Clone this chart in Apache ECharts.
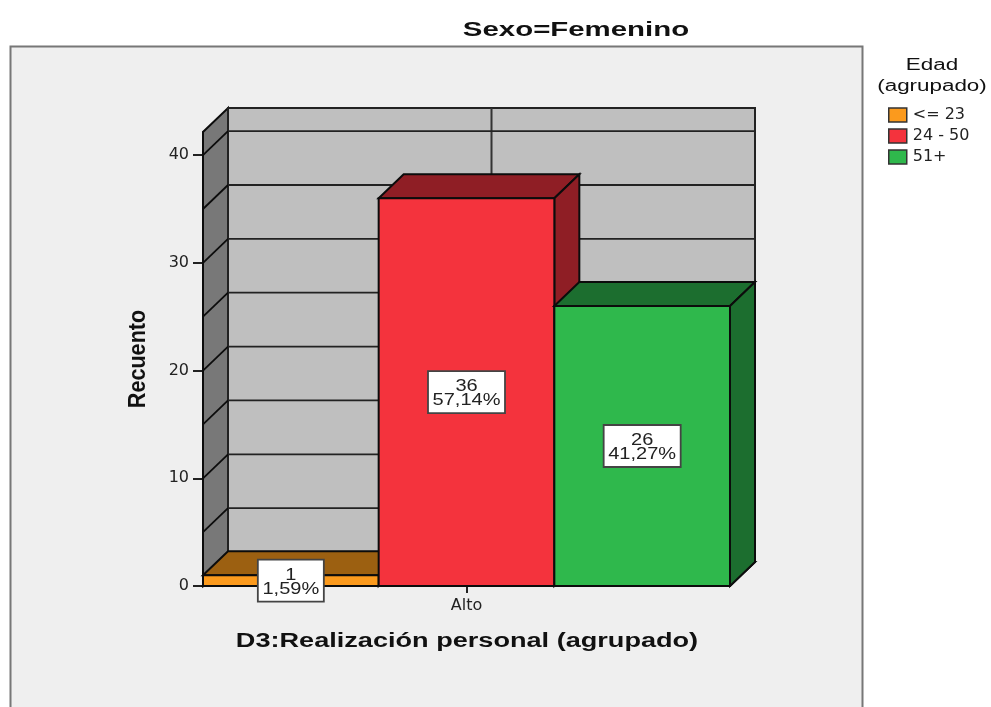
<!DOCTYPE html>
<html>
<head>
<meta charset="utf-8">
<style>html,body{margin:0;padding:0;background:#fff}#c{width:991px;height:707px}</style>
<script src="https://cdn.jsdelivr.net/npm/echarts@6/dist/echarts.min.js"></script>
</head>
<body>
<div id="c"></div>
<script>
const categories = ['Alto'];
const seriesNames = ['<= 23', '24 - 50', '51+'];
const counts = [1, 36, 26];
const percents = ['1,59%', '57,14%', '41,27%'];
const frontColors = ['#fb9a1d', '#f4333d', '#2fb84c'];
const topColors = ['#9c6011', '#8f1e25', '#1c6e2f'];
const sideColors = ['#9c6011', '#8f1e25', '#1c6e2f'];
const yTicks = [0, 10, 20, 30, 40];
const gridValues = [5, 10, 15, 20, 25, 30, 35, 40];
const yMax = 42.15;
const titleText = 'Sexo=Femenino';
const xTitle = 'D3:Realización personal (agrupado)';
const yTitle = 'Recuento';
const legendTitle = ['Edad', '(agrupado)'];

const DX = 25, DY = 24, EDGE = '#0c0c0c';
const edge = {stroke: EDGE, lineWidth: 2};

function wallsItem(params, api) {
  const band = api.size([1, 0])[0];
  const c = api.coord([0, 0]);
  const t = api.coord([0, yMax]);
  const L = c[0] - band / 2, R = c[0] + band / 2, B = c[1], T = t[1];
  const ch = [
    {type: 'polygon', shape: {points: [[L, B], [L + DX, B - DY], [L + DX, T - DY], [L, T]]}, style: {fill: '#787878', ...edge}},
    {type: 'rect', shape: {x: L + DX, y: T - DY, width: R - L, height: B - T}, style: {fill: '#bfbfbf', stroke: '#222', lineWidth: 2}},
    {type: 'polygon', shape: {points: [[L, B], [L + DX, B - DY], [R + DX, B - DY], [R, B]]}, style: {fill: '#999', ...edge}},
    {type: 'line', shape: {x1: c[0] + DX, y1: T - DY, x2: c[0] + DX, y2: B - DY}, style: {stroke: '#333', lineWidth: 2}}
  ];
  gridValues.forEach(v => {
    const y = api.coord([0, v])[1];
    ch.push({type: 'line', shape: {x1: L, y1: y, x2: L + DX, y2: y - DY}, style: {stroke: EDGE, lineWidth: 1.8}});
    ch.push({type: 'line', shape: {x1: L + DX, y1: y - DY, x2: R + DX, y2: y - DY}, style: {stroke: '#222', lineWidth: 1.8}});
  });
  return {type: 'group', children: ch};
}

function barItem(i) {
  return function (params, api) {
    const band = api.size([1, 0])[0];
    const w = band / seriesNames.length;
    const c0 = api.coord([api.value(0), 0]);
    const v = api.value(1);
    const top = api.coord([api.value(0), v])[1];
    const x0 = c0[0] - band / 2 + w * i, x1 = x0 + w, B = c0[1];
    return {type: 'group', children: [
      {type: 'polygon', shape: {points: [[x0, top], [x0 + DX, top - DY], [x1 + DX, top - DY], [x1, top]]}, style: {fill: topColors[i], ...edge}},
      {type: 'polygon', shape: {points: [[x1, top], [x1 + DX, top - DY], [x1 + DX, B - DY], [x1, B]]}, style: {fill: sideColors[i], ...edge}},
      {type: 'rect', shape: {x: x0, y: top, width: w, height: B - top}, style: {fill: frontColors[i], ...edge}}
    ]};
  };
}

function labelItem(params, api) {
  const i = params.dataIndex;
  const band = api.size([1, 0])[0];
  const w = band / seriesNames.length;
  const c0 = api.coord([0, 0]);
  const cx = c0[0] - band / 2 + w * (i + 0.5);
  const cy = api.coord([0, counts[i] / 2])[1];
  const bw = percents[i].length * 11 + 11, bh = 42;
  return {type: 'group', children: [
    {type: 'rect', shape: {x: cx - bw / 2, y: cy - bh / 2, width: bw, height: bh},
      style: {fill: '#fff', stroke: '#444', lineWidth: 1.8}},
    {type: 'text', x: cx, y: cy + 1.5, scaleX: 1.25,
      style: {text: counts[i] + '\n' + percents[i], fill: '#222', align: 'center', verticalAlign: 'middle',
        font: '16px "Liberation Sans"', lineHeight: 14}}
  ]};
}

function txt(text, x, y, font, scaleX, extra) {
  return Object.assign({type: 'text', x, y, scaleX, z: 100,
    style: {text, font, fill: '#111', align: 'center', verticalAlign: 'middle'}}, extra || {});
}

const chart = echarts.init(document.getElementById('c'), null, {renderer: 'canvas'});
chart.setOption({
  animation: false,
  backgroundColor: '#fff',
  grid: {left: 203, right: 261, top: 132, bottom: 121},
  xAxis: {
    type: 'category', data: categories,
    axisLine: {show: true, lineStyle: {color: '#111', width: 2}},
    axisTick: {show: true, alignWithLabel: true, length: 7, lineStyle: {color: '#222', width: 2}},
    axisLabel: {show: true, color: '#222', fontFamily: 'DejaVu Sans', fontSize: 16, margin: 12}
  },
  yAxis: {
    type: 'value', min: 0, max: yMax, interval: 10,
    axisLine: {show: true, lineStyle: {color: '#111', width: 2.5}},
    axisTick: {show: true, length: 10, customValues: yTicks, lineStyle: {color: '#222', width: 2}},
    axisLabel: {show: true, color: '#222', fontFamily: 'DejaVu Sans', fontSize: 16, margin: 14, customValues: yTicks},
    splitLine: {show: false}
  },
  legend: {
    show: true, orient: 'vertical', left: 888, top: 107, padding: 0, icon: 'rect',
    itemWidth: 18, itemHeight: 14, itemGap: 5,
    data: seriesNames,
    selectedMode: false,
    itemStyle: {borderColor: '#333', borderWidth: 1.5},
    textStyle: {color: '#222', fontFamily: 'DejaVu Sans', fontSize: 16, lineHeight: 14, padding: [0, 0, 0, 1]}
  },
  graphic: {elements: [
    {type: 'rect', z: -10, shape: {x: 10.5, y: 46.5, width: 852, height: 700},
      style: {fill: '#efefef', stroke: '#777', lineWidth: 2}},
    txt(titleText, 576, 30, 'bold 21px "Liberation Sans"', 1.4),
    txt(xTitle, 467, 641, 'bold 20px "Liberation Sans"', 1.355),
    txt(yTitle, 138, 359, 'bold 24px "Liberation Sans"', 0.9, {rotation: Math.PI / 2}),
    txt(legendTitle[0], 932, 66, '16px "Liberation Sans"', 1.4),
    txt(legendTitle[1], 932, 87, '16px "Liberation Sans"', 1.4)
  ]},
  series: [
    {type: 'custom', name: 'walls', coordinateSystem: 'cartesian2d', z: 1, silent: true,
      renderItem: wallsItem, data: [[0, 0]], encode: {x: 0, y: 1}},
    ...seriesNames.map((n, i) => ({
      type: 'custom', name: n, coordinateSystem: 'cartesian2d', z: 2 + i, silent: true,
      itemStyle: {color: frontColors[i]},
      renderItem: barItem(i), data: [[0, counts[i]]], encode: {x: 0, y: 1}
    })),
    {type: 'custom', name: 'labels', coordinateSystem: 'cartesian2d', z: 10, silent: true,
      renderItem: labelItem, data: counts.map((v, i) => [0, v]), encode: {x: 0, y: 1}}
  ]
});
</script>
</body>
</html>
